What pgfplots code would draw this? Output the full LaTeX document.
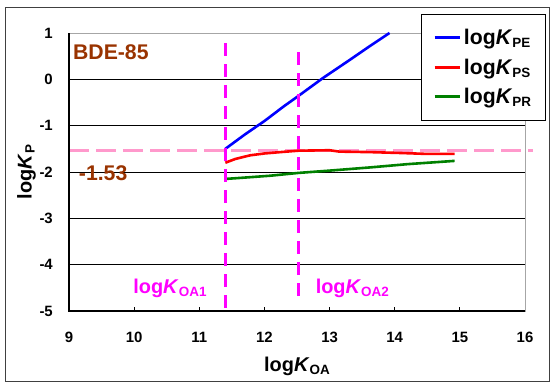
\documentclass[border=0pt]{standalone}
\usepackage{pgfplots}
\pgfplotsset{compat=1.18}
\usepackage{fontspec}
\setmainfont{Liberation Sans}
\definecolor{cblue}{RGB}{0,0,255}
\definecolor{cred}{RGB}{255,0,0}
\definecolor{cgreen}{RGB}{0,128,0}
\definecolor{cmag}{RGB}{255,0,255}
\definecolor{cpink}{RGB}{255,153,204}
\definecolor{cbrown}{RGB}{153,51,0}
\newcommand{\bigf}{\fontsize{20}{24}\selectfont\bfseries}
\newcommand{\largef}{\fontsize{21.3}{25}\selectfont\bfseries}
\newcommand{\sub}[1]{\raisebox{-0.15em}{\fontsize{13.5}{14}\selectfont #1}}
\newcommand{\logK}[1]{log\textit{K}\sub{#1}}
\begin{document}
\begin{tikzpicture}[x=1bp,y=1bp]
\path (0,0) rectangle (551,383);
\draw[line width=0.8bp, black!75] (5,2) rectangle (549,376);
\begin{axis}[
  at={(69bp,72bp)}, anchor=south west,
  scale only axis, width=456bp, height=278bp,
  xmin=9, xmax=16, ymin=-5, ymax=1,
  xtick={9,...,16}, ytick={-5,...,1},
  clip=false,
  axis line style={draw=gray!70, line width=1bp},
  ymajorgrids, grid style={black, line width=0.8bp},
  tick align=inside, xtick pos=bottom, ytick pos=left,
  major tick length=4bp,
  xtick style={black, line width=0.8bp},
  ytick style={draw=none},
  /pgf/number format/assume math mode=true,
  ticklabel style={font=\fontsize{15}{18}\selectfont\bfseries},
  xticklabel style={anchor=north, inner sep=0pt, yshift=-21bp},
  yticklabel style={anchor=east, inner sep=0pt, xshift=-16bp},
  xlabel={\logK{OA}},
  ylabel={\logK{P}},
  label style={font=\bigf},
  xlabel style={at={(axis description cs:0.5,-0.219)}, anchor=base, inner sep=0pt},
  ylabel style={at={(axis description cs:-0.082,0.5)}, anchor=base, inner sep=0pt},
  legend style={at={(1.046,1.069)}, anchor=north east, draw=black, line width=0.8bp,
    fill=white, font=\largef, inner xsep=11.5bp, inner ysep=9bp, row sep=0bp,
    nodes={inner ysep=6.2bp, inner xsep=3bp}, cells={anchor=west}},
  legend image code/.code={\draw[#1, line width=2.8bp] (0bp,0bp) -- (25bp,0bp);},
]
\addplot[cpink, line width=3bp, dash pattern=on 20bp off 7bp, forget plot]
  coordinates {(9,-1.53) (16.13,-1.53)};
\addplot[cblue, line width=2.6bp] coordinates {
(11.4,-1.50) (11.7,-1.19) (12.0,-0.90) (12.3,-0.58) (12.52,-0.36)
(12.9,0.03) (13.3,0.41) (13.6,0.70) (13.92,1.0)};
\addlegendentry{\logK{PE}}
\addplot[cred, line width=2.6bp] coordinates {
(11.4,-1.80) (11.55,-1.72) (11.78,-1.64) (12.0,-1.60) (12.25,-1.57) (12.52,-1.54)
(13.0,-1.53) (13.15,-1.56) (13.6,-1.57) (14.1,-1.59) (14.5,-1.61) (14.92,-1.61)};
\addlegendentry{\logK{PS}}
\addplot[cgreen, line width=2.6bp] coordinates {
(11.4,-2.15) (11.8,-2.11) (12.09,-2.08) (12.52,-2.02) (13.0,-1.97)
(13.63,-1.90) (14.2,-1.83) (14.92,-1.76)};
\addlegendentry{\logK{PR}}
\addplot[cmag, line width=3bp, dash pattern=on 13bp off 8bp, forget plot]
  coordinates {(11.4,0.78) (11.4,-5.07)};
\addplot[cmag, line width=3bp, dash pattern=on 13bp off 8bp, forget plot]
  coordinates {(12.52,0.59) (12.52,-4.83)};
\draw[black, line width=1.5bp] (rel axis cs:0,1) -- (rel axis cs:0,0) -- (rel axis cs:1,0);
\node[anchor=west, inner sep=0pt, text=cbrown, font=\largef] at (axis cs:9.06,0.58) {BDE-85};
\node[anchor=west, inner sep=0pt, text=cbrown, font=\largef] at (axis cs:9.15,-2.03) {-1.53};
\node[anchor=base west, inner sep=0pt, text=cmag, font=\bigf] at (axis cs:9.985,-4.615) {\logK{OA1}};
\node[anchor=base west, inner sep=0pt, text=cmag, font=\bigf] at (axis cs:12.785,-4.615) {\logK{OA2}};
\end{axis}
\end{tikzpicture}
\end{document}
